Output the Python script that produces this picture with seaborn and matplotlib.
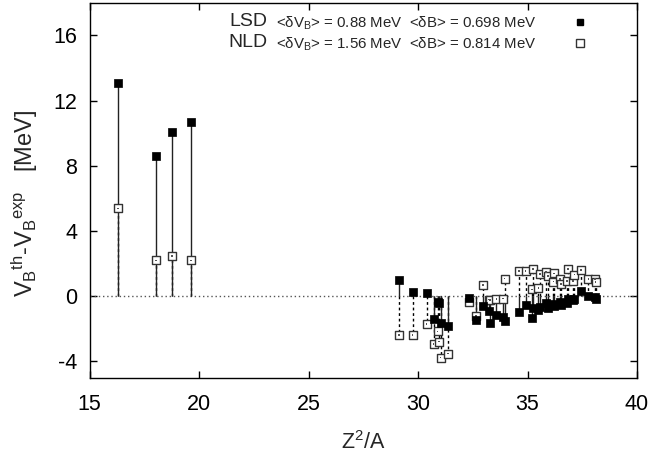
import numpy as np
import pandas as pd
import matplotlib
matplotlib.use("Agg")
import matplotlib.pyplot as plt
from matplotlib.lines import Line2D
import seaborn as sns

# Z^2/A of each nucleus
z2a = [16.28, 18.02, 18.76, 19.62,
       29.12, 29.75, 30.39, 30.71, 30.89, 30.97, 31.03, 31.36,
       32.31, 32.64, 32.96, 33.24, 33.30, 33.58, 33.88, 33.95,
       34.61, 34.91, 35.20, 35.24, 35.50, 35.58, 35.84, 35.92,
       36.18, 36.22, 36.48, 36.53, 36.79, 36.86, 37.09, 37.14,
       37.44, 37.78, 38.08, 38.11]

# V_B(th) - V_B(exp) [MeV], LSD model
lsd = [13.10, 8.63, 10.06, 10.67,
       0.98, 0.25, 0.18, -1.37, -0.35, -0.40, -1.67, -1.82,
       -0.12, -1.45, -0.59, -0.90, -1.65, -1.14, -1.27, -1.52,
       -0.98, -0.53, -1.34, -0.75, -0.84, -0.67, -0.43, -0.73,
       -0.47, -0.60, -0.37, -0.53, -0.41, -0.15, -0.22, -0.16,
       0.31, 0.00, -0.06, -0.18]

# V_B(th) - V_B(exp) [MeV], NLD model
nld = [5.39, 2.20, 2.45, 2.20,
       -2.39, -2.39, -1.71, -2.94, -2.16, -2.78, -3.76, -3.51,
       -0.33, -1.22, 0.69, -0.20, -0.22, -0.18, -0.14, 1.08,
       1.55, 1.57, 0.42, 1.67, 0.52, 1.37, 1.50, 1.25,
       0.90, 1.40, 1.06, 0.75, 0.92, 1.67, 0.92, 1.33,
       1.59, 1.06, 1.06, 0.86]

lsd_label = r'<$\delta$V$_\mathregular{B}$> = 0.88 MeV  <$\delta$B> = 0.698 MeV'
nld_label = r'<$\delta$V$_\mathregular{B}$> = 1.56 MeV  <$\delta$B> = 0.814 MeV'

df = pd.DataFrame({'z2a': z2a, 'lsd': lsd, 'nld': nld})

sns.set_style('ticks')
plt.rcParams['font.family'] = ['Liberation Sans', 'DejaVu Sans']
plt.rcParams['mathtext.fontset'] = 'custom'
plt.rcParams['mathtext.rm'] = 'Liberation Sans'
plt.rcParams['mathtext.it'] = 'Liberation Sans'
plt.rcParams['mathtext.bf'] = 'Liberation Sans:bold'
plt.rcParams['axes.unicode_minus'] = False

fig = plt.figure(figsize=(6.5, 4.53), dpi=100)
ax = fig.add_axes([0.138, 0.166, 0.842, 0.828])

# zero line
ax.axhline(0, color='#555555', lw=1.0, ls=(0, (1, 2)), zorder=1)

# impulses from zero
ax.vlines(df['z2a'], 0, df['nld'], color='black', lw=1.0, ls=(0, (2, 2)), zorder=2)
ax.vlines(df['z2a'], 0, df['lsd'], color='#222222', lw=1.0, zorder=2)

sns.scatterplot(data=df, x='z2a', y='nld', marker='s', s=30, color='white',
                edgecolor='#333333', linewidth=1.0, zorder=3, ax=ax)
sns.scatterplot(data=df, x='z2a', y='nld', marker='s', s=1.5, color='#555555',
                edgecolor='none', linewidth=0, zorder=4, ax=ax)
sns.scatterplot(data=df, x='z2a', y='lsd', marker='s', s=26, color='black',
                edgecolor='black', linewidth=0.5, zorder=5, ax=ax)

ax.set_xlim(15, 40)
ax.set_ylim(-5, 18)
ax.set_xticks([15, 20, 25, 30, 35, 40])
ax.set_yticks([-4, 0, 4, 8, 12, 16])
ax.tick_params(direction='in', length=5, width=1, top=True, right=True,
               labelsize=15.5, colors='black')
ax.tick_params(axis='x', pad=12)
ax.tick_params(axis='y', pad=9)
for s in ax.spines.values():
    s.set_linewidth(1.0)
    s.set_color('black')

ax.set_xlabel(r'Z$^\mathregular{2}$/A', fontsize=15.5)
ax.set_ylabel(r'V$_\mathregular{B}$$^\mathregular{th}$-V$_\mathregular{B}$$^\mathregular{exp}$   [MeV]',
              fontsize=17)
ax.xaxis.set_label_coords(0.5, -0.141)
ax.yaxis.set_label_coords(-0.091, 0.464)

# key
handles = [Line2D([], [], ls='none', marker='s', ms=4.8, mfc='black', mec='black'),
           Line2D([], [], ls='none', marker='s', ms=5.2, mfc='white', mec='#333333', mew=1.0)]
leg = ax.legend(handles, [lsd_label, nld_label], loc='upper right',
                bbox_to_anchor=(0.932, 1.0), frameon=False, markerfirst=False,
                fontsize=10.8, handletextpad=2.45, labelspacing=0.2,
                borderaxespad=0.4, handlelength=1.0)
for name, yy in [('LSD', 0.951), ('NLD', 0.893)]:
    ax.text(0.325, yy, name, transform=ax.transAxes, ha='right', va='center',
            fontsize=14)

fig.savefig('out.png', dpi=100)
